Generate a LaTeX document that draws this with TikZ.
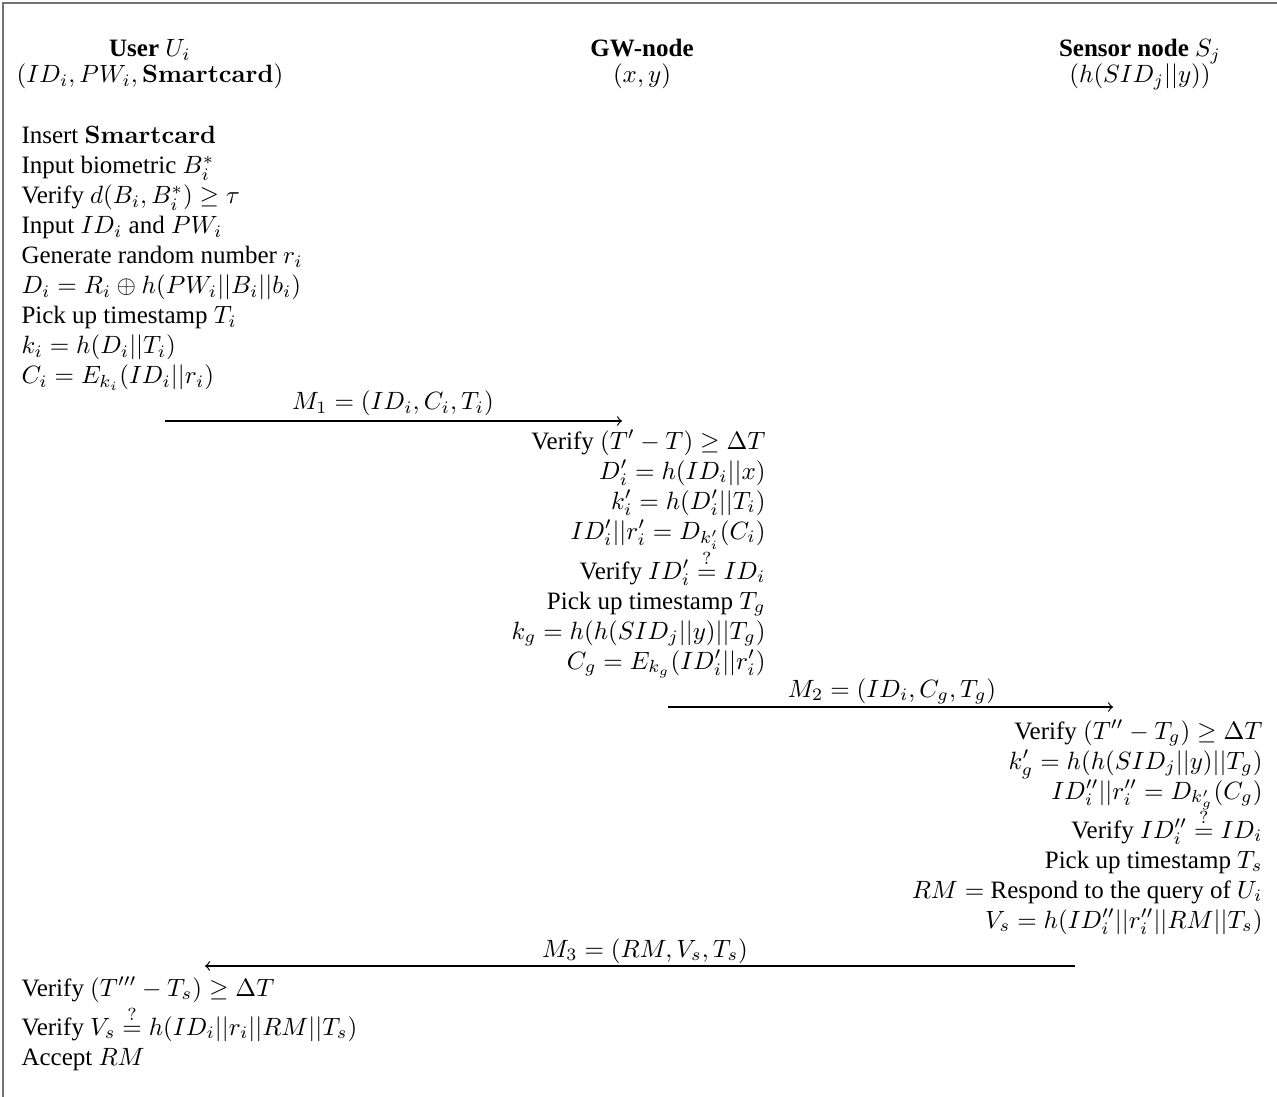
\documentclass[tikz,border=0pt]{standalone}
\usepackage[no-math]{fontspec}
\setmainfont{Liberation Serif}
\begin{document}
\begin{tikzpicture}[x=0.4pt,y=-0.4pt,
  lt/.style={anchor=base west,inner sep=0pt},
  rt/.style={anchor=base east,inner sep=0pt},
  hd/.style={anchor=base,inner sep=0pt},
  msg/.style={->,line width=0.5pt},
  frame/.style={draw=black!55,line width=0.8pt}]
\useasboundingbox (0,0) rectangle (1277,1097);
\draw[frame] (3,1300) -- (3,3) -- (1400,3);
% headers
\node[hd] (uh1) at (150,57) {\textbf{User} $U_i$};
\node[hd] (uh2) at (150,83) {$(ID_i, PW_i, \mathbf{Smartcard})$};
\node[hd] (gh1) at (642,57) {\textbf{GW-node}};
\node[hd] (gh2) at (642,83) {$(x, y)$};
\node[hd] (sh1) at (1140,57) {\textbf{Sensor node} $S_j$};
\node[hd] (sh2) at (1140,83) {$(h(SID_j||y))$};
% user
\node[lt] (u1) at (21,144) {Insert $\mathbf{Smartcard}$};
\node[lt] (u2) at (21,174) {Input biometric $B_i^*$};
\node[lt] (u3) at (21,204) {Verify $d(B_i, B_i^*) \geq \tau$};
\node[lt] (u4) at (21,234) {Input $ID_i$ and $PW_i$};
\node[lt] (u5) at (21,264) {Generate random number $r_i$};
\node[lt] (u6) at (21,294) {$D_i = R_i \oplus h(PW_i||B_i||b_i)$};
\node[lt] (u7) at (21,324) {Pick up timestamp $T_i$};
\node[lt] (u8) at (21,354) {$k_i = h(D_i||T_i)$};
\node[lt] (u9) at (21,384) {$C_i = E_{k_i}(ID_i||r_i)$};
% M1
\coordinate (m1s) at (165,421);
\coordinate (m1e) at (622,421);
\draw[msg] (m1s) -- (m1e);
\node[hd] (m1) at (393,410) {$M_1 = (ID_i, C_i, T_i)$};
% GW
\node[rt] (g1) at (766,449) {Verify $(T' - T) \geq \Delta T$};
\node[rt] (g2) at (766,479) {$D_i' = h(ID_i||x)$};
\node[rt] (g3) at (766,509) {$k_i' = h(D_i'||T_i)$};
\node[rt] (g4) at (766,539) {$ID_i'||r_i' = D_{k_i'}(C_i)$};
\node[rt] (g5) at (766,579) {Verify $ID_i' \stackrel{?}{=} ID_i$};
\node[rt] (g6) at (766,609) {Pick up timestamp $T_g$};
\node[rt] (g7) at (766,639) {$k_g = h(h(SID_j||y)||T_g)$};
\node[rt] (g8) at (766,669) {$C_g = E_{k_g}(ID_i'||r_i')$};
% M2
\coordinate (m2s) at (668,707);
\coordinate (m2e) at (1113,707);
\draw[msg] (m2s) -- (m2e);
\node[hd] (m2) at (892,697) {$M_2 = (ID_i, C_g, T_g)$};
% Sensor
\node[rt] (s1) at (1263,739) {Verify $(T'' - T_g) \geq \Delta T$};
\node[rt] (s2) at (1263,769) {$k_g' = h(h(SID_j||y)||T_g)$};
\node[rt] (s3) at (1263,799) {$ID_i''||r_i'' = D_{k_g'}(C_g)$};
\node[rt] (s4) at (1263,838) {Verify $ID_i'' \stackrel{?}{=} ID_i$};
\node[rt] (s5) at (1263,868) {Pick up timestamp $T_s$};
\node[rt] (s6) at (1263,898) {$RM =$ Respond to the query of $U_i$};
\node[rt] (s7) at (1263,928) {$V_s = h(ID_i''||r_i''||RM||T_s)$};
% M3
\coordinate (m3s) at (1075,966);
\coordinate (m3e) at (205,966);
\draw[msg] (m3s) -- (m3e);
\node[hd] (m3) at (645,957) {$M_3 = (RM, V_s, T_s)$};
% user end
\node[lt] (e1) at (21,996) {Verify $(T''' - T_s) \geq \Delta T$};
\node[lt] (e2) at (21,1035) {Verify $V_s \stackrel{?}{=} h(ID_i||r_i||RM||T_s)$};
\node[lt] (e3) at (21,1065) {Accept $RM$};
\end{tikzpicture}
\end{document}
